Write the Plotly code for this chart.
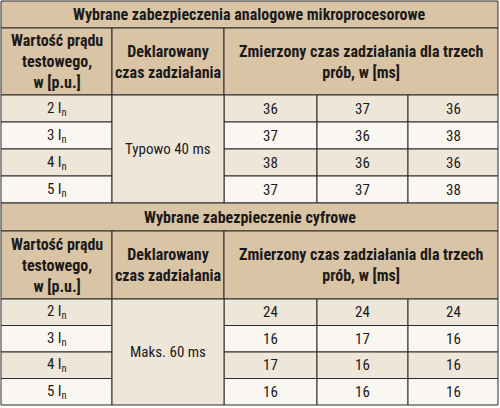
import plotly.graph_objects as go

titles = ["Wybrane zabezpieczenia analogowe mikroprocesorowe", "Wybrane zabezpieczenie cyfrowe"]
col_headers = ["Wartość prądu<br>testowego,<br>w [p.u.]", "Deklarowany<br>czas zadziałania",
               "Zmierzony czas zadziałania dla trzech<br>prób, w [ms]"]
currents = ["2 I<sub>n</sub>", "3 I<sub>n</sub>", "4 I<sub>n</sub>", "5 I<sub>n</sub>"]
declared = ["Typowo 40 ms", "Maks. 60 ms"]
measured = [
    [[36, 37, 36], [37, 36, 38], [38, 36, 36], [37, 37, 38]],
    [[24, 24, 24], [16, 17, 16], [17, 16, 16], [16, 16, 16]],
]

W, H = 500, 408
colx = [1, 112, 224, 317, 408, 498]
blocks = [dict(top=1, title_h=27, head_h=67, row_h=27),
          dict(top=203, title_h=28, head_h=68, row_h=26.5)]
HEAD = "#dac4a6"
DARK = "#efe6da"
LIGHT = "#faf7f2"
LINE = "#2b2b2b"
FONT = "Liberation Sans Narrow, Roboto Condensed, Liberation Sans, sans-serif"

fig = go.Figure()
shapes, ann = [], []

def rect(x0, y0, x1, y1, fill):
    shapes.append(dict(type="rect", x0=x0, y0=y0, x1=x1, y1=y1, fillcolor=fill,
                       line=dict(color=LINE, width=1), layer="below"))

def text(x, y, t, size=14, bold=False):
    if bold:
        t = "<b>" + t.replace("<br>", "</b><br><b>") + "</b>"
    ann.append(dict(x=x, y=y, text=t, showarrow=False, xanchor="center", yanchor="middle",
                    font=dict(family=FONT, size=size, color="#1a1a1a")))

for b, blk in enumerate(blocks):
    y = blk["top"]
    rect(colx[0], y, colx[-1], y + blk["title_h"], HEAD)
    text((colx[0] + colx[-1]) / 2, y + blk["title_h"] / 2, titles[b], 16, True)
    y += blk["title_h"]
    hy0, hy1 = y, y + blk["head_h"]
    spans = [(0, 1), (1, 2), (2, 5)]
    for (a, c), h in zip(spans, col_headers):
        rect(colx[a], hy0, colx[c], hy1, HEAD)
        text((colx[a] + colx[c]) / 2, (hy0 + hy1) / 2, h, 16, True)
    y = hy1
    rh = blk["row_h"]
    for r in range(len(currents)):
        fill = DARK if r % 2 == 0 else LIGHT
        ry0, ry1 = y + r * rh, y + (r + 1) * rh
        rect(colx[0], ry0, colx[1], ry1, fill)
        text((colx[0] + colx[1]) / 2, (ry0 + ry1) / 2, currents[r], 15)
        for k in range(3):
            rect(colx[2 + k], ry0, colx[3 + k], ry1, fill)
            text((colx[2 + k] + colx[3 + k]) / 2, (ry0 + ry1) / 2, str(measured[b][r][k]), 15)
    rect(colx[1], y, colx[2], y + 4 * rh, DARK)
    text((colx[1] + colx[2]) / 2, y + 2 * rh, declared[b], 15)

fig.update_layout(width=W, height=H, margin=dict(l=0, r=0, t=0, b=0),
                  paper_bgcolor="white", plot_bgcolor="white",
                  shapes=shapes, annotations=ann, showlegend=False,
                  xaxis=dict(range=[0, W], visible=False, fixedrange=True),
                  yaxis=dict(range=[H, 0], visible=False, fixedrange=True))
fig.write_html("out.html", config=dict(displayModeBar=False),
               post_script="document.body.style.margin='0';document.body.style.overflow='hidden';")
